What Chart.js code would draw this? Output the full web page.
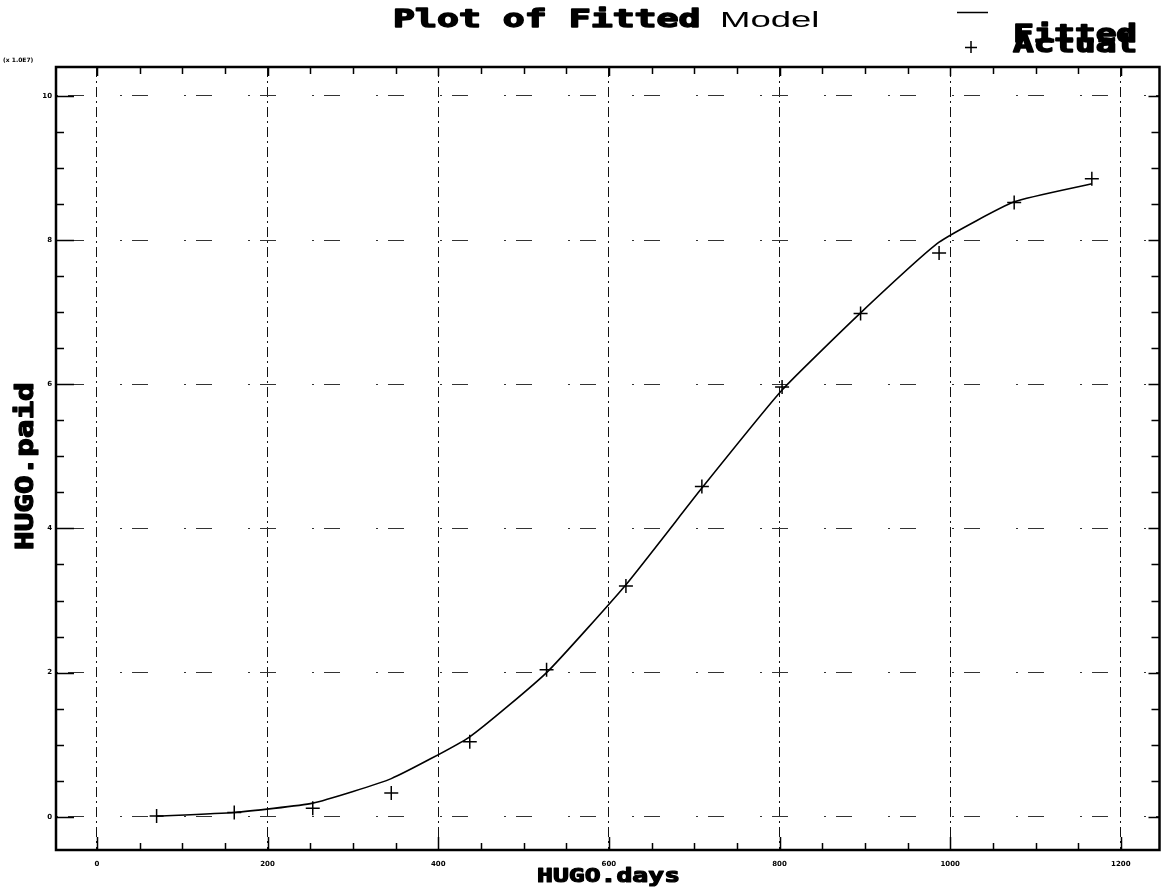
<!DOCTYPE html>
<html><head><meta charset="utf-8">
<script src="https://cdn.jsdelivr.net/npm/chart.js@4.4.0/dist/chart.umd.min.js"></script>
<style>html,body{margin:0;padding:0;background:#fff}canvas{display:block}</style>
</head><body>
<canvas id="c" width="1168" height="896"></canvas>
<script>
// Cumulative paid amount by elapsed days (values in units of 1.0E7)
const days = [70, 161, 253, 345, 437, 527, 620, 709, 803, 895, 987, 1075, 1166];
const actualPaid = [0.01, 0.06, 0.12, 0.33, 1.04, 2.04, 3.20, 4.58, 5.96, 6.98, 7.82, 8.52, 8.85];
const fittedPaid = [0.01, 0.06, 0.19, 0.53, 1.11, 2.00, 3.22, 4.56, 5.92, 6.99, 7.97, 8.53, 8.78];

// Axis ticks: labelled majors and unlabelled minor steps
const xMajorTicks = [0, 200, 400, 600, 800, 1000, 1200];
const yMajorTicks = [0, 2, 4, 6, 8, 10];
const xMinorStep = 50;
const yMinorStep = 0.5;

// Text
const titleBold = 'Plot of Fitted';
const titleLight = 'Model';
const xTitle = 'HUGO.days';
const yTitle = 'HUGO.paid';
const yMultiplier = '(x 1.0E7)';
const seriesNames = ['Fitted', 'Actual'];

const INK = '#000';
const MONO = '"DejaVu Sans Mono", monospace';

function stretchedText(ctx, text, x, y, font, sx, rot, heavy) {
  ctx.save();
  ctx.translate(x, y);
  if (rot) ctx.rotate(rot);
  ctx.scale(sx, 1);
  ctx.font = font;
  ctx.fillStyle = INK;
  ctx.strokeStyle = INK;
  ctx.textAlign = 'left';
  ctx.textBaseline = 'alphabetic';
  ctx.fillText(text, 0, 0);
  if (heavy) {
    ctx.lineWidth = heavy;
    ctx.lineJoin = 'round';
    ctx.strokeText(text, 0, 0);
  }
  ctx.restore();
}

// Frame, inward tick marks, titles and legend
const decorations = {
  id: 'decorations',
  afterDraw(chart) {
    const ctx = chart.ctx;
    const a = chart.chartArea;
    const xs = chart.scales.x, ys = chart.scales.y;

    ctx.save();
    ctx.strokeStyle = INK;
    ctx.lineWidth = 1.5;
    ctx.beginPath();
    xs.ticks.forEach(t => {
      const px = Math.round(xs.getPixelForValue(t.value)) + 0.5;
      const major = xMajorTicks.includes(t.value);
      const lb = major ? 13 : 7, lt = major ? 9 : 7;
      ctx.moveTo(px, a.bottom); ctx.lineTo(px, a.bottom - lb);
      ctx.moveTo(px, a.top); ctx.lineTo(px, a.top + lt);
    });
    ys.ticks.forEach(t => {
      const py = Math.round(ys.getPixelForValue(t.value)) + 0.5;
      const major = yMajorTicks.includes(t.value);
      const ll = major ? 18 : 8, lr = major ? 11 : 8;
      ctx.moveTo(a.left, py); ctx.lineTo(a.left + ll, py);
      ctx.moveTo(a.right, py); ctx.lineTo(a.right - lr, py);
    });
    ctx.stroke();

    // plot frame
    ctx.lineWidth = 2.5;
    ctx.strokeRect(a.left, a.top, a.right - a.left, a.bottom - a.top);
    ctx.restore();

    // title
    stretchedText(ctx, titleBold, 393, 27, 'bold 24px ' + MONO, 1.52, 0, 1.4);
    stretchedText(ctx, titleLight, 720, 27, '22px "Liberation Sans", Arial, sans-serif', 1.66);

    // axis titles
    stretchedText(ctx, xTitle, 537, 882, 'bold 20px ' + MONO, 1.32, 0, 1.2);
    stretchedText(ctx, yTitle, 33, 550, 'bold 24px ' + MONO, 1.29, -Math.PI / 2, 1.2);

    // multiplier note
    ctx.save();
    ctx.font = 'bold 6px "DejaVu Sans", sans-serif';
    ctx.fillStyle = INK;
    ctx.textBaseline = 'middle';
    ctx.fillText(yMultiplier, 3, 60);
    ctx.restore();

    // legend
    ctx.save();
    ctx.strokeStyle = INK;
    ctx.lineWidth = 1.5;
    ctx.beginPath();
    ctx.moveTo(957, 12.5); ctx.lineTo(988, 12.5);
    ctx.moveTo(971, 41); ctx.lineTo(971, 53);
    ctx.moveTo(965, 47.5); ctx.lineTo(977, 47.5);
    ctx.stroke();
    ctx.restore();
    stretchedText(ctx, seriesNames[0], 1013, 42, 'bold 24px ' + MONO, 1.43, 0, 1.4);
    stretchedText(ctx, seriesNames[1], 1013, 52, 'bold 24px ' + MONO, 1.43, 0, 1.4);
  }
};

new Chart(document.getElementById('c'), {
  type: 'scatter',
  data: {
    datasets: [
      {
        label: seriesNames[0],
        data: days.map((d, i) => ({ x: d, y: fittedPaid[i] })),
        showLine: true,
        borderColor: INK,
        borderWidth: 1.6,
        pointRadius: 0,
        tension: 0.15,
        fill: false
      },
      {
        label: seriesNames[1],
        data: days.map((d, i) => ({ x: d, y: actualPaid[i] })),
        showLine: false,
        pointStyle: 'cross',
        pointRadius: 7,
        borderColor: INK,
        borderWidth: 1.5
      }
    ]
  },
  options: {
    responsive: false,
    animation: false,
    devicePixelRatio: 1,
    layout: { padding: { top: 67, right: 5, left: 0, bottom: 0 } },
    plugins: { legend: { display: false }, title: { display: false }, tooltip: { enabled: false } },
    scales: {
      x: {
        type: 'linear',
        min: -47.9,
        max: 1245.3,
        afterBuildTicks: s => {
          const t = [];
          for (let v = xMajorTicks[0]; v <= xMajorTicks[xMajorTicks.length - 1]; v += xMinorStep) t.push({ value: v });
          s.ticks = t;
        },
        afterFit: s => { s.height = 46; },
        border: { display: false, dash: [10, 4, 2, 4] },
        grid: {
          drawTicks: false,
          lineWidth: 1,
          color: c => (c.tick && xMajorTicks.includes(c.tick.value)) ? '#111' : 'rgba(0,0,0,0)'
        },
        ticks: {
          autoSkip: false,
          maxRotation: 0,
          padding: 10,
          color: INK,
          font: { family: '"DejaVu Sans", sans-serif', size: 7, weight: 'bold' },
          callback: v => xMajorTicks.includes(v) ? String(v) : ''
        }
      },
      y: {
        type: 'linear',
        min: -0.46,
        max: 10.40,
        afterBuildTicks: s => {
          const t = [];
          for (let v = yMajorTicks[0]; v <= yMajorTicks[yMajorTicks.length - 1] + 1e-9; v += yMinorStep) t.push({ value: Math.round(v * 10) / 10 });
          s.ticks = t;
        },
        afterFit: s => { s.width = 56; },
        border: { display: false, dash: [2, 10, 16, 36] },
        grid: {
          drawTicks: false,
          lineWidth: 1,
          color: c => (c.tick && yMajorTicks.includes(c.tick.value)) ? '#333' : 'rgba(0,0,0,0)'
        },
        ticks: {
          autoSkip: false,
          padding: 4,
          color: INK,
          font: { family: '"DejaVu Sans", sans-serif', size: 7, weight: 'bold' },
          callback: v => yMajorTicks.includes(v) ? String(v) : ''
        }
      }
    }
  },
  plugins: [decorations]
});
</script>
</body></html>
